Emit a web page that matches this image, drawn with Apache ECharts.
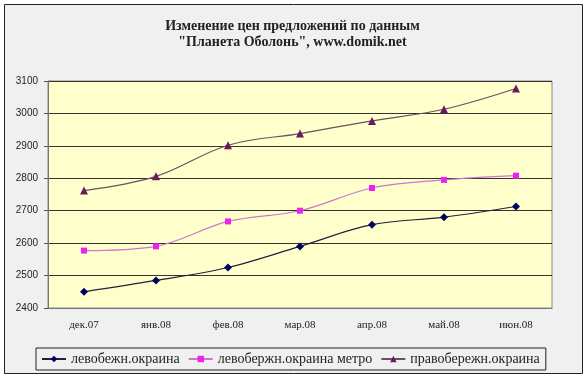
<!DOCTYPE html>
<html><head><meta charset="utf-8">
<script src="https://cdn.jsdelivr.net/npm/echarts@6/dist/echarts.min.js"></script>
<style>html,body{margin:0;padding:0;background:#fff}#c{width:585px;height:380px}</style>
</head><body><div id="c"></div>
<script>
const categories = ['дек.07','янв.08','фев.08','мар.08','апр.08','май.08','июн.08'];
const seriesNames = ['левобежн.окраина','левобержн.окраина метро','правобережн.окраина'];
const leftBank = [2450, 2485, 2525, 2590, 2657, 2680, 2713];
const leftBankMetro = [2577, 2590, 2667, 2700, 2770, 2795, 2808];
const rightBank = [2762, 2806, 2902, 2938, 2977, 3013, 3077];
const yTicks = {min: 2400, max: 3100, interval: 100};
const titleLines = ['Изменение цен предложений по данным', '"Планета Оболонь", www.domik.net'];

const chart = echarts.init(document.getElementById('c'));
const serif = 'Liberation Serif';
function mk(name, data, color, lineColor, symbol, size){
  return {name, type:'line', data, smooth:0.35, symbol, symbolSize:size,
    itemStyle:{color}, lineStyle:{color:lineColor, width:1.2}, z:3};
}
const tStyle = {fontFamily:serif, fontWeight:'bold', fontSize:14, color:'#222'};
chart.setOption({
  backgroundColor:'#fff',
  animation:false,
  title:[
    {text:titleLines[0], left:'center', top:14, padding:[5,5,5,23], textStyle:tStyle},
    {text:titleLines[1], left:'center', top:30, padding:[5,5,5,1], textStyle:tStyle}
  ],
  graphic:[{type:'rect', z:-10, shape:{x:4.5,y:4.5,width:578,height:369}, style:{fill:'#f0f0f0', stroke:'#222', lineWidth:1}, silent:true}],
  grid:{left:48, right:33, top:81, bottom:72, show:true, backgroundColor:'#ffffcc', borderColor:'#888', borderWidth:1},
  legend:{top:348, left:36, width:513, itemGap:8, itemWidth:24, itemHeight:8,
    borderColor:'#222', borderWidth:1, padding:[4,6,4,5], backgroundColor:'#f0f0f0',
    textStyle:{fontFamily:serif, fontSize:14, color:'#222'}, data:seriesNames},
  xAxis:{type:'category', data:categories, boundaryGap:true,
    axisLine:{lineStyle:{color:'#777'}}, axisTick:{length:5, lineStyle:{color:'#555'}},
    axisLabel:{fontFamily:serif, fontSize:11, color:'#222', margin:12}},
  yAxis:{type:'value', min:yTicks.min, max:yTicks.max, interval:yTicks.interval,
    axisLine:{show:true, lineStyle:{color:'#777'}}, axisTick:{show:true, length:4, lineStyle:{color:'#555'}},
    axisLabel:{fontFamily:'Liberation Sans', fontSize:10, color:'#222', margin:10, formatter:v=>String(v)},
    splitLine:{lineStyle:{color:'#333', width:1}}},
  series:[
    mk(seriesNames[0], leftBank, '#000060', '#202040', 'diamond', 8),
    mk(seriesNames[1], leftBankMetro, '#ee22ee', '#cc77cc', 'rect', 6),
    mk(seriesNames[2], rightBank, '#6a1a5a', '#6a5060', 'triangle', 8)
  ]
});
</script></body></html>
